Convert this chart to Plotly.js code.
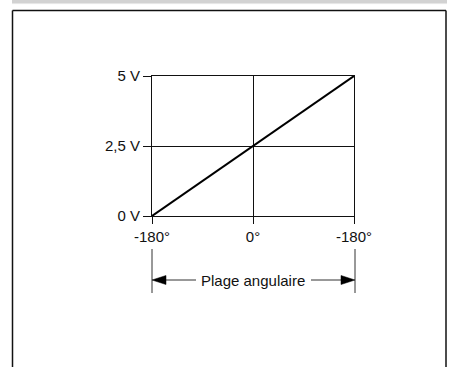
<!DOCTYPE html>
<html>
<head>
<meta charset="utf-8">
<script src="https://cdn.plot.ly/plotly-3.0.1.min.js"></script>
<style>html,body{margin:0;padding:0;background:#fff;}#chart{width:451px;height:367px;}</style>
</head>
<body>
<div id="chart"></div>
<script>
// Data
var angles = [-180, 0, 180];
var voltages = [0, 2.5, 5];
var xTickVals = [-180, 0, 180];
var xTickText = ['-180°', '0°', '-180°'];
var yTickVals = [0, 2.5, 5];
var yTickText = ['0 V', '2,5 V', '5 V'];
var rangeLabel = 'Plage angulaire';

var W = 451, H = 367;
var M = {l: 152, r: 97, t: 76, b: 151};
var pw = W - M.l - M.r, ph = H - M.t - M.b;
function px(x){ return (x - M.l) / pw; }
function py(y){ return (H - M.b - y) / ph; }

var FONT = 'Liberation Sans, Arial, sans-serif';

function line(x0, y0, x1, y1, color, width){
  return {type:'line', xref:'paper', yref:'paper', x0:px(x0), y0:py(y0), x1:px(x1), y1:py(y1),
          line:{color:color, width:width}, layer:'above'};
}
function tri(pts){
  var d = 'M ' + pts.map(function(p){ return px(p[0]) + ',' + py(p[1]); }).join(' L ') + ' Z';
  return {type:'path', xref:'paper', yref:'paper', path:d, fillcolor:'#000', line:{color:'#000', width:0.5}, layer:'above'};
}

var ay = 280;
var shapes = [
  // top grey bar
  {type:'rect', xref:'paper', yref:'paper', x0:px(12), x1:px(447), y0:py(0), y1:py(3),
   fillcolor:'#d2d2d2', line:{width:0}, layer:'below'},
  line(12, 3.6, 447, 3.6, '#e4e4e4', 1),
  // frame
  line(12.5, 10.5, 446, 10.5, '#111', 1.5),
  line(12.5, 10.5, 12.5, 368, '#111', 1.5),
  line(446, 10.5, 446, 368, '#111', 1.5),
  // dimension lines
  line(152, 249, 152, 293, '#333', 1),
  line(355, 249, 355, 293, '#333', 1),
  line(164, ay, 196, ay, '#333', 1),
  line(311, ay, 343, ay, '#333', 1),
  tri([[152, ay], [166, ay - 4.5], [166, ay + 4.5]]),
  tri([[355, ay], [341, ay - 4.5], [341, ay + 4.5]])
];

var trace = {
  x: angles, y: voltages, type:'scatter', mode:'lines',
  line:{color:'#000', width:2}, hoverinfo:'none', cliponaxis:false
};

var layout = {
  width: W, height: H,
  margin: M,
  paper_bgcolor:'#fff', plot_bgcolor:'#fff',
  showlegend:false,
  font:{family:FONT, size:15, color:'#111'},
  xaxis:{range:[-180,180], tickvals:xTickVals, ticktext:xTickText, ticks:'outside', ticklen:7,
         tickcolor:'#111', tickwidth:1, showline:true, linecolor:'#111', linewidth:1, mirror:true,
         showgrid:true, gridcolor:'#111', gridwidth:1, zeroline:false, fixedrange:true,
         tickfont:{family:FONT, size:15, color:'#111'}},
  yaxis:{range:[0,5], tickvals:yTickVals, ticktext:yTickText, ticks:'outside', ticklen:8,
         tickcolor:'#111', tickwidth:1, showline:true, linecolor:'#111', linewidth:1, mirror:true,
         showgrid:true, gridcolor:'#111', gridwidth:1, zeroline:false, fixedrange:true,
         tickfont:{family:FONT, size:15, color:'#111'}},
  shapes: shapes,
  annotations:[{xref:'paper', yref:'paper', x:px(253), y:py(ay), text:rangeLabel, showarrow:false,
                xanchor:'center', yanchor:'middle', font:{family:FONT, size:15, color:'#111'}}]
};

Plotly.newPlot('chart', [trace], layout, {staticPlot:true, displayModeBar:false});
</script>
</body>
</html>
